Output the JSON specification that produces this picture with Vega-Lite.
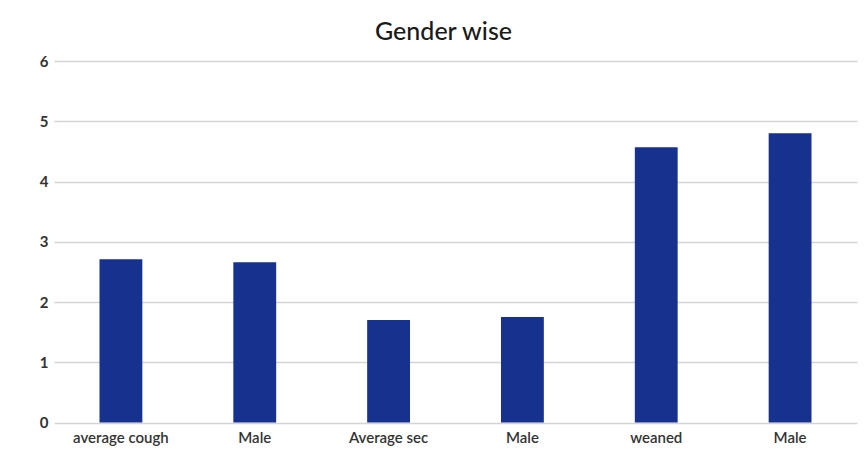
{
  "$schema": "https://vega.github.io/schema/vega-lite/v6.json",
  "width": 803,
  "height": 361.5,
  "autosize": {"type": "none"},
  "padding": {"left": 54, "top": 61, "right": 10, "bottom": 32.5},
  "background": "white",
  "title": {
    "text": "Gender wise",
    "font": "Lato",
    "fontSize": 25,
    "fontWeight": 500,
    "color": "#1a1a1a",
    "anchor": "middle",
    "dx": -12,
    "offset": 9
  },
  "data": {
    "values": [
      {"key": "average cough|1", "value": 2.71},
      {"key": "Male|2", "value": 2.66},
      {"key": "Average sec|3", "value": 1.70},
      {"key": "Male|4", "value": 1.75},
      {"key": "weaned|5", "value": 4.57},
      {"key": "Male|6", "value": 4.80}
    ]
  },
  "mark": {"type": "bar", "color": "#17318f", "width": {"band": 0.32}},
  "encoding": {
    "x": {
      "field": "key",
      "type": "nominal",
      "sort": null,
      "scale": {"paddingInner": 0, "paddingOuter": 0},
      "axis": {
        "title": null,
        "labelExpr": "split(datum.value, '|')[0]",
        "labelAngle": 0,
        "labelFont": "Lato",
        "labelFontSize": 15,
        "labelFontWeight": 600,
        "labelColor": "#333333",
        "labelPadding": 8,
        "ticks": false,
        "domain": false,
        "grid": false
      }
    },
    "y": {
      "field": "value",
      "type": "quantitative",
      "scale": {"domain": [0, 6], "nice": false},
      "axis": {
        "title": null,
        "values": [0, 1, 2, 3, 4, 5, 6],
        "format": "d",
        "labelFont": "Lato",
        "labelFontSize": 15,
        "labelFontWeight": "bold",
        "labelColor": "#333333",
        "labelPadding": 6,
        "ticks": false,
        "domain": false,
        "grid": true,
        "gridColor": "#d4d4d4",
        "gridWidth": 1.6
      }
    }
  },
  "config": {"view": {"stroke": null}}
}
